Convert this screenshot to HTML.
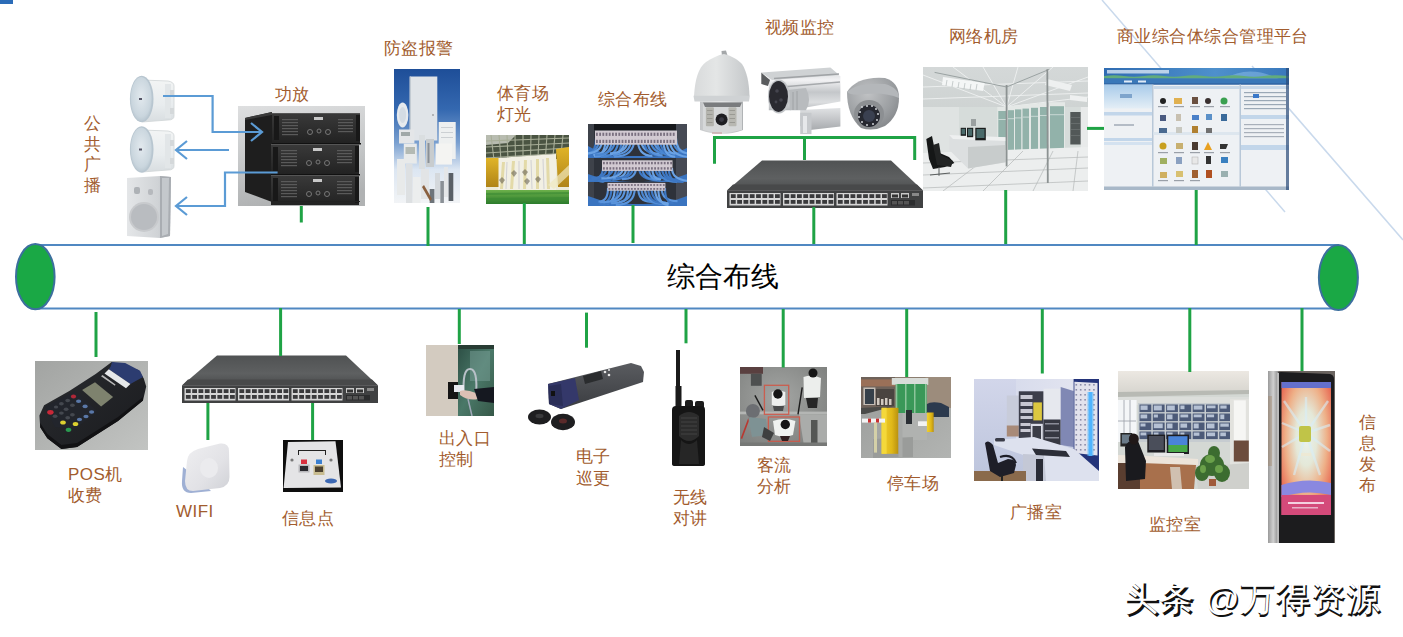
<!DOCTYPE html>
<html><head><meta charset="utf-8">
<style>
html,body{margin:0;padding:0;background:#fff;width:1403px;height:637px;overflow:hidden;position:relative}
body{font-family:"Liberation Sans",sans-serif}
.l{position:absolute;color:#a25c2e;font-size:17px;line-height:21px;letter-spacing:0.45px;white-space:nowrap}
.ph{position:absolute;overflow:hidden}
svg{position:absolute;left:0;top:0}
</style></head><body>
<!-- background lines & cylinder -->
<svg width="1403" height="637" viewBox="0 0 1403 637">
  <rect x="0" y="0" width="13" height="4" fill="#2b6cb8"/>
  <line x1="1102" y1="0" x2="1285" y2="212" stroke="#c9d9ec" stroke-width="1.5"/>
  <line x1="1252" y1="66" x2="1403" y2="240" stroke="#c9d9ec" stroke-width="1.5"/>
</svg>

<!-- photos placeholder -->

<!-- speaker 1 -->
<svg style="left:124px;top:72px" width="56" height="56" viewBox="0 0 56 56">
  <defs>
    <linearGradient id="spk" x1="0" y1="0" x2="0" y2="1"><stop offset="0" stop-color="#f2f4f4"/><stop offset="0.6" stop-color="#e8ecee"/><stop offset="1" stop-color="#d8dde0"/></linearGradient>
    <radialGradient id="disc" cx="0.5" cy="0.45" r="0.6"><stop offset="0" stop-color="#e2e9ee"/><stop offset="0.75" stop-color="#cad6de"/><stop offset="1" stop-color="#b4c2cc"/></radialGradient>
  </defs>
  <path d="M18 8 L44 9 Q50 10 50 14 L50 44 Q50 48 44 48 L18 50 Z" fill="url(#spk)" stroke="#cfd4d6" stroke-width="0.8"/>
  <rect x="41" y="12" width="6" height="34" fill="#e2e6e8"/>
  <rect x="46" y="18" width="4" height="6" fill="#d4d8da"/>
  <rect x="46" y="36" width="4" height="6" fill="#d4d8da"/>
  <ellipse cx="17.7" cy="27" rx="11.8" ry="23.2" fill="#b8c6d0"/>
  <ellipse cx="17.2" cy="27" rx="10.6" ry="22" fill="url(#disc)"/>
  <rect x="15" y="26" width="3" height="2" fill="#556"/>
</svg>
<!-- speaker 2 -->
<svg style="left:124px;top:123px" width="56" height="54" viewBox="0 0 56 54">
  <path d="M18 7 L44 8 Q50 9 50 13 L50 43 Q50 47 44 47 L18 49 Z" fill="url(#spk)" stroke="#cfd4d6" stroke-width="0.8"/>
  <rect x="41" y="11" width="6" height="34" fill="#e2e6e8"/>
  <rect x="46" y="17" width="4" height="6" fill="#d4d8da"/>
  <rect x="46" y="35" width="4" height="6" fill="#d4d8da"/>
  <ellipse cx="17.7" cy="26.5" rx="11.8" ry="23.2" fill="#b8c6d0"/>
  <ellipse cx="17.2" cy="26.5" rx="10.6" ry="22" fill="url(#disc)"/>
  <rect x="15" y="25.5" width="3" height="2" fill="#556"/>
</svg>
<!-- wall speaker -->
<svg style="left:124px;top:174px" width="50" height="66" viewBox="0 0 50 66">
  <defs><linearGradient id="ws" x1="0" x2="1"><stop offset="0" stop-color="#e4e6e8"/><stop offset="0.7" stop-color="#d0d3d6"/><stop offset="1" stop-color="#b8bcc0"/></linearGradient></defs>
  <path d="M3 4 L36 2 L47 3 L46 62 L36 64 L3 62 Z" fill="url(#ws)"/>
  <path d="M36 2 L47 3 L46 62 L36 64 Z" fill="#a9adb2"/>
  <path d="M38 4 L45 4 L44 60 L38 62 Z" fill="#c4c8cc"/>
  <ellipse cx="20" cy="43" rx="15" ry="15" fill="#c8cacd"/>
  <ellipse cx="20" cy="43" rx="13" ry="13" fill="#b9bcc0"/>
  <rect x="10" y="13" width="6" height="7" rx="2" fill="#aeb2b6"/>
  <rect x="24" y="15" width="5" height="6" rx="2" fill="#b6b9bd"/>
</svg>
<!-- amplifier -->
<svg style="left:238px;top:106px" width="127" height="100" viewBox="0 0 127 100">
  <defs><linearGradient id="ampbg" x1="0" y1="0" x2="0.2" y2="1"><stop offset="0" stop-color="#dedfe0"/><stop offset="0.55" stop-color="#c6c8c9"/><stop offset="1" stop-color="#b0b2b3"/></linearGradient>
  <linearGradient id="ampf" x1="0" y1="0" x2="0" y2="1"><stop offset="0" stop-color="#3a3a3a"/><stop offset="1" stop-color="#222"/></linearGradient>
  <g id="unit">
    <rect x="0" y="0" width="88" height="30" fill="url(#ampf)"/>
    <rect x="0" y="0" width="88" height="1" fill="#555"/>
    <rect x="2" y="3" width="5" height="24" fill="#181818"/>
    <g fill="#5a5a5a"><rect x="10" y="6" width="16" height="1.2"/><rect x="10" y="9" width="16" height="1.2"/><rect x="10" y="12" width="16" height="1.2"/><rect x="10" y="15" width="16" height="1.2"/><rect x="10" y="18" width="16" height="1.2"/><rect x="10" y="21" width="16" height="1.2"/></g>
    <g fill="#5a5a5a"><rect x="66" y="6" width="15" height="1.2"/><rect x="66" y="9" width="15" height="1.2"/><rect x="66" y="12" width="15" height="1.2"/><rect x="66" y="15" width="15" height="1.2"/><rect x="66" y="18" width="15" height="1.2"/></g>
    <rect x="42" y="4" width="9" height="3" fill="#c8c8c8"/>
    <g fill="none" stroke="#777" stroke-width="1"><circle cx="38" cy="19" r="2.5"/><circle cx="47" cy="18" r="2"/><circle cx="56" cy="19" r="2.5"/></g>
    <rect x="84" y="2" width="4" height="26" fill="#181818"/>
  </g>
  </defs>
  <rect width="127" height="100" fill="url(#ampbg)"/>
  <path d="M7 12 L34 6 L34 96 L7 86 Z" fill="#1e1e1e"/>
  <path d="M7 12 L34 6 L34 9 L7 14 Z" fill="#3a3a3a"/>
  <use href="#unit" x="34" y="7" transform="translate(0,0)"/>
  <rect x="34" y="37" width="89" height="1.5" fill="#111"/>
  <use href="#unit" x="33" y="38"/>
  <rect x="33" y="68" width="89" height="1.5" fill="#111"/>
  <use href="#unit" x="33" y="69"/>
  <rect x="33" y="95" width="89" height="1" fill="#222"/>
</svg>
<!-- alarm -->
<svg style="left:394px;top:69px" width="66" height="134" viewBox="0 0 66 134">
  <defs><linearGradient id="alb" x1="0" y1="0" x2="0" y2="1"><stop offset="0" stop-color="#1e4e98"/><stop offset="0.3" stop-color="#3468b0"/><stop offset="0.55" stop-color="#7aa0d0"/><stop offset="0.75" stop-color="#dce6f2"/><stop offset="1" stop-color="#f2f4f6"/></linearGradient></defs>
  <rect width="66" height="134" fill="url(#alb)"/>
  <rect x="15.7" y="7.5" width="27.6" height="64" fill="#e0e4e8"/>
  <rect x="15.7" y="7.5" width="1.2" height="64" fill="#c0c8d0"/>
  <circle cx="39" cy="46" r="0.8" fill="#777"/>
  <ellipse cx="8.6" cy="46" rx="5.8" ry="12.5" fill="#e6eaee"/>
  <ellipse cx="8.6" cy="46" rx="3.5" ry="8" fill="#d4dce4"/>
  <rect x="44.7" y="53" width="17" height="37" fill="#eef0f0"/>
  <g fill="#c4c8cc"><rect x="47" y="58" width="12" height="0.8"/><rect x="47" y="63" width="12" height="0.8"/><rect x="47" y="68" width="12" height="0.8"/></g>
  <rect x="41.6" y="74.6" width="16.4" height="21" fill="#f4f4f2"/>
  <rect x="5" y="60.5" width="15.4" height="14" fill="#e4e6e8"/>
  <rect x="7" y="63" width="9" height="4" fill="#a0a8a8"/>
  <rect x="9.8" y="74.6" width="13" height="20" fill="#e8eaea"/>
  <rect x="11.5" y="78" width="9.5" height="7" fill="#b4bab4"/>
  <rect x="25" y="66" width="6" height="34" fill="#dadee0"/>
  <rect x="32" y="70" width="8" height="28" fill="#c8ccce"/>
  <rect x="33.5" y="74" width="2" height="20" fill="#8a9096"/>
  <rect x="3" y="90" width="8" height="36" fill="#e8eaea"/>
  <rect x="12" y="95" width="6.5" height="40" fill="#dde0e2"/>
  <rect x="19" y="108" width="7.5" height="27" fill="#eceeee"/>
  <rect x="27" y="100" width="8" height="30" fill="#e2e4e6"/>
  <rect x="35.7" y="120" width="4.7" height="14" fill="#6e747a"/>
  <rect x="41" y="104" width="5" height="26" fill="#d4d8dc"/>
  <rect x="46.3" y="112" width="3.6" height="22" fill="#8a9096"/>
  <rect x="50" y="98" width="4" height="30" fill="#e4e6e8"/>
  <rect x="54.6" y="104" width="4.7" height="28" fill="#5a6066"/>
  <path d="M30 116 L38 130 L36 132 L28 118 Z" fill="#8a6040"/>
</svg>
<!-- stadium -->
<svg style="left:486px;top:135px" width="83" height="69" viewBox="0 0 83 69">
  <defs>
    <linearGradient id="fld" x1="0" y1="0" x2="0" y2="1"><stop offset="0" stop-color="#6cb04a"/><stop offset="1" stop-color="#2c7c2c"/></linearGradient>
    <linearGradient id="ylw" x1="0" y1="0" x2="0" y2="1"><stop offset="0" stop-color="#e0b428"/><stop offset="1" stop-color="#b08418"/></linearGradient>
  </defs>
  <rect width="83" height="69" fill="#ecead8"/>
  <rect width="83" height="24" fill="#4a5442"/>
  <path d="M0 0 L30 0 L22 8 L0 10 Z" fill="#b8bcb0"/>
  <g stroke="#a8ae98" stroke-width="1.1" fill="none">
    <path d="M0 6 L83 3"/><path d="M0 12 L83 8"/><path d="M0 18 L83 13"/><path d="M0 23 L83 18"/>
    <path d="M5 0 L8 25"/><path d="M13 0 L15 25"/><path d="M21 0 L22 25"/><path d="M29 0 L29.5 25"/><path d="M37 0 L37 25"/><path d="M45 0 L44.5 24"/><path d="M53 0 L52 23"/><path d="M61 0 L59.5 22"/><path d="M69 0 L67 21"/><path d="M77 0 L75 20"/>
  </g>
  <path d="M12 23 L70 19 L70 56 L12 56 Z" fill="#f2f0e4"/>
  <g fill="#e2d8a2" opacity="0.9"><path d="M16 27 L19 27 L17 54 L14 54 Z"/><path d="M26 26 L29 26 L27 54 L24 54 Z"/><path d="M38 25 L41 25 L40 54 L37 54 Z"/><path d="M50 24 L53 24 L53 54 L50 54 Z"/><path d="M60 23 L63 23 L64 54 L61 54 Z"/></g>
  <g stroke="#b8bac8" stroke-width="0.6"><line x1="21" y1="27" x2="20" y2="54"/><line x1="33" y1="26" x2="33" y2="54"/><line x1="45" y1="25" x2="46" y2="54"/><line x1="57" y1="24" x2="58" y2="54"/></g>
  <g fill="#6a6454" opacity="0.6"><path d="M25 38 L28 35 L31 38 L28 42 Z"/><path d="M38 46 L41 43 L44 46 L41 50 Z"/><path d="M13 45 L16 42 L19 45 L16 49 Z"/><path d="M49 44 L52 41 L55 44 L52 48 Z"/><path d="M36 37 L39 34 L42 37 L39 41 Z"/></g>
  <path d="M0 23 L12.5 23 L12.5 52 L0 52 Z" fill="url(#ylw)"/>
  <path d="M70 14 L83 12 L83 52 L72 52 Z" fill="url(#ylw)"/>
  <path d="M62 50 L83 30 L83 40 L68 54 Z" fill="#f0e8c0" opacity="0.7"/>
  <rect x="0" y="55" width="83" height="14" fill="url(#fld)"/>
  <g fill="#3a8a34" opacity="0.6"><path d="M0 58 L83 57 L83 59 L0 60 Z"/><path d="M0 63 L83 62 L83 64.5 L0 65.5 Z"/></g>
</svg>

<!-- PTZ camera -->
<svg style="left:692px;top:50px" width="60" height="88" viewBox="0 0 60 88">
  <defs>
    <linearGradient id="ptzd" x1="0" x2="1"><stop offset="0" stop-color="#d8dadb"/><stop offset="0.4" stop-color="#e4e6e6"/><stop offset="1" stop-color="#c4c7c9"/></linearGradient>
    <linearGradient id="ptzh" x1="0" x2="1"><stop offset="0" stop-color="#c4c6c8"/><stop offset="0.5" stop-color="#e0e2e2"/><stop offset="1" stop-color="#b0b3b5"/></linearGradient>
  </defs>
  <path d="M29.5 1 L34 0.5 L35.5 5.5 L30 6.5 Z" fill="#a4a7a9"/>
  <path d="M2 46 C3 30 6 18 14 12 C20 8 26 5 32 4 C40 6 46 10 50 14 C55 22 57 32 57.5 46 Z" fill="url(#ptzd)"/>
  <path d="M1.5 45.7 L57.8 45.7 L57 51.6 L2.5 51.6 Z" fill="#cfd2d4"/>
  <path d="M8 51.6 L51 51.6 L51 80 Q30 88 8 80 Z" fill="url(#ptzh)"/>
  <path d="M11 52.5 L50 52.5 L50 80 Q30 85 11 80 Z" fill="#d6d8d9"/>
  <path d="M11 52.5 L50 52.5 L48 57 L13 57 Z" fill="#7a7c7e"/>
  <rect x="13.9" y="57.3" width="8" height="19" rx="1" fill="#b4b4ae"/>
  <rect x="36.5" y="57.3" width="8" height="19" rx="1" fill="#b8b8b2"/>
  <g fill="#9a9a94"><rect x="15" y="60" width="5.5" height="1"/><rect x="15" y="64" width="5.5" height="1"/><rect x="15" y="68" width="5.5" height="1"/><rect x="15" y="72" width="5.5" height="1"/><rect x="37.5" y="60" width="5.5" height="1"/><rect x="37.5" y="64" width="5.5" height="1"/><rect x="37.5" y="68" width="5.5" height="1"/><rect x="37.5" y="72" width="5.5" height="1"/></g>
  <circle cx="29.6" cy="69.6" r="6" fill="#1e1e22"/>
  <circle cx="29.6" cy="69.6" r="2.4" fill="#3a3a44"/>
  <rect x="20" y="82" width="10" height="2" fill="#c8a8a8" opacity="0.7"/>
</svg>
<!-- bullet camera -->
<svg style="left:760px;top:66px" width="82" height="69" viewBox="0 0 82 69">
  <defs>
    <linearGradient id="blt" x1="0" y1="0" x2="0" y2="1"><stop offset="0" stop-color="#d4d6d8"/><stop offset="0.25" stop-color="#f2f2f4"/><stop offset="0.55" stop-color="#c4c7ca"/><stop offset="0.8" stop-color="#dcdee0"/><stop offset="1" stop-color="#b4b7ba"/></linearGradient>
    <linearGradient id="brk" x1="0" y1="0" x2="0" y2="1"><stop offset="0" stop-color="#e0e2e4"/><stop offset="1" stop-color="#a8abae"/></linearGradient>
  </defs>
  <path d="M40.2 44 L80.4 42 L80.4 60.6 L50 64 L40.2 60 Z" fill="url(#brk)"/>
  <path d="M40.2 46.8 L51.5 46.8 L51.5 68.1 L40.2 68.1 Z" fill="#c6c9cc"/>
  <rect x="43" y="50" width="4" height="17" fill="#e6e8ea"/>
  <path d="M8.8 12 L70.4 4 L80.4 10.3 L80.4 35.5 L30 44.3 L8.8 44.3 Z" fill="url(#blt)"/>
  <path d="M1.3 6.6 L70.4 1.5 L79.2 9.1 L12 14 Z" fill="#cfd2d4"/>
  <path d="M1.3 6.6 L10 14 L8 20 L1.3 18 Z" fill="#5a5c5e"/>
  <path d="M14 12.5 L79 8" stroke="#9fa2a5" stroke-width="1.6"/>
  <path d="M22 21 L80 16" stroke="#a6a9ac" stroke-width="1.6"/>
  <path d="M28 24 L46 22 Q52 34 46 44.3 L30 44.3 Z" fill="#b8bbbe"/>
  <g stroke="#9a9da0" stroke-width="0.8"><line x1="33" y1="26" x2="33" y2="44"/><line x1="37" y1="25" x2="37" y2="44"/></g>
  <ellipse cx="18.9" cy="30.4" rx="11" ry="17" fill="#c2c5c8"/>
  <ellipse cx="18.5" cy="30.4" rx="9.5" ry="15.5" fill="#2a2a30"/>
  <circle cx="17" cy="25" r="1.8" fill="#45454e"/><circle cx="21" cy="34" r="1.8" fill="#45454e"/><circle cx="16" cy="36" r="1.4" fill="#45454e"/>
</svg>
<!-- dome camera -->
<svg style="left:845px;top:76px" width="56" height="56" viewBox="0 0 56 56">
  <defs>
    <radialGradient id="dm" cx="0.4" cy="0.3" r="0.8"><stop offset="0" stop-color="#c0c2c4"/><stop offset="0.6" stop-color="#9c9fa2"/><stop offset="1" stop-color="#7e8184"/></radialGradient>
  </defs>
  <path d="M2 16 Q12 0 40 2 Q54 6 54 22 Q54 40 40 50 Q28 56 16 52 Q2 40 2 16 Z" fill="url(#dm)"/>
  <path d="M2 16 Q12 6 40 8 Q54 12 54 22 Q40 16 20 18 Q6 20 2 16 Z" fill="#b4b7ba"/>
  <ellipse cx="24" cy="38" rx="15" ry="14" fill="#8c8f92"/>
  <circle cx="24" cy="40" r="11" fill="#262830"/>
  <circle cx="24" cy="40" r="6" fill="#3a4050"/>
  <g fill="#cfd2d6"><circle cx="15" cy="36" r="1"/><circle cx="17" cy="31" r="1"/><circle cx="22" cy="30" r="1"/><circle cx="27" cy="30" r="1"/><circle cx="31" cy="33" r="1"/><circle cx="33" cy="38" r="1"/><circle cx="32" cy="44" r="1"/><circle cx="28" cy="48" r="1"/><circle cx="22" cy="49" r="1"/><circle cx="17" cy="46" r="1"/><circle cx="14" cy="41" r="1"/></g>
</svg>

<svg style="left:727px;top:160px" width="197" height="49" viewBox="0 0 197 49">
  <defs>
    <linearGradient id="swt" x1="0" y1="0" x2="0" y2="1"><stop offset="0" stop-color="#505253"/><stop offset="0.6" stop-color="#5e6061"/><stop offset="1" stop-color="#4a4c4d"/></linearGradient>
    <g id="pg">
      <rect x="0" y="0" width="51" height="12.5" fill="#d6d6d6"/>
      <g fill="#3a3a3c" id="pr">
        <rect x="1.4" y="1.2" width="4.8" height="3.8"/><rect x="7.7" y="1.2" width="4.8" height="3.8"/><rect x="14" y="1.2" width="4.8" height="3.8"/><rect x="20.3" y="1.2" width="4.8" height="3.8"/><rect x="26.6" y="1.2" width="4.8" height="3.8"/><rect x="32.9" y="1.2" width="4.8" height="3.8"/><rect x="39.2" y="1.2" width="4.8" height="3.8"/><rect x="45.5" y="1.2" width="4.8" height="3.8"/>
      </g>
      <use href="#pr" y="5.8"/>
    </g>
    <g id="sw">
      <path d="M35 0.5 L164 0.5 L196 30.5 L0 30.5 Z" fill="url(#swt)"/>
      <path d="M6 24.5 L190 24.5 L196 30.5 L0 30.5 Z" fill="#48494a"/>
      <path d="M0 30.5 L196 30.5 L196 48 L0 48 Z" fill="#404142"/>
      <use href="#pg" x="2.5" y="33"/>
      <use href="#pg" x="56" y="33"/>
      <use href="#pg" x="109.5" y="33"/>
      <rect x="164" y="33" width="8" height="5" fill="#c8c8c8"/><rect x="174" y="33" width="8" height="5" fill="#c8c8c8"/>
      <rect x="165" y="34.5" width="6" height="3" fill="#333"/><rect x="175" y="34.5" width="6" height="3" fill="#333"/>
      <rect x="164" y="40" width="24" height="5.5" fill="#2c2d2e"/>
      <g fill="#555"><rect x="165" y="41" width="5" height="3.5"/><rect x="171" y="41" width="5" height="3.5"/><rect x="177" y="41" width="5" height="3.5"/></g>
      <rect x="185" y="33" width="7" height="3" fill="#888"/>
    </g>
  </defs>
  <use href="#sw"/>
</svg>
<svg style="left:182px;top:355px" width="197" height="49" viewBox="0 0 197 49"><use href="#sw"/></svg>
<!-- network room -->
<svg style="left:923px;top:67px" width="165" height="124" viewBox="0 0 165 124">
  <defs>
    <linearGradient id="nrc" x1="0" y1="0" x2="0" y2="1"><stop offset="0" stop-color="#d4d8d8"/><stop offset="1" stop-color="#c4cac8"/></linearGradient>
  </defs>
  <rect width="165" height="124" fill="url(#nrc)"/>
  <g stroke="#eef0f0" stroke-width="0.9" fill="none">
    <line x1="0" y1="8" x2="83.6" y2="40"/><line x1="30" y1="0" x2="83.6" y2="40"/><line x1="60" y1="0" x2="83.6" y2="40"/><line x1="95" y1="0" x2="83.6" y2="40"/><line x1="130" y1="0" x2="83.6" y2="40"/><line x1="165" y1="10" x2="83.6" y2="40"/><line x1="165" y1="30" x2="83.6" y2="40"/>
    <line x1="0" y1="20" x2="165" y2="14"/><line x1="0" y1="32" x2="165" y2="26"/>
  </g>
  <path d="M20 10 L61.7 16 L60 24 L19 18 Z" fill="#f4f6f6"/>
  <g stroke="#a8b0b0" stroke-width="0.6"><line x1="24" y1="13" x2="23" y2="19"/><line x1="30" y1="14" x2="29" y2="20"/><line x1="36" y1="15" x2="35" y2="21"/><line x1="42" y1="16" x2="41" y2="22"/><line x1="48" y1="17" x2="47" y2="23"/><line x1="54" y1="17" x2="53" y2="23"/></g>
  <path d="M124 12 L149 18 L147 24 L122 18 Z" fill="#eef0f0"/>
  <path d="M147 28 L164 30 L164 35 L147 33 Z" fill="#eef0f0"/>
  <rect x="0" y="40" width="165" height="46" fill="#d6dcda"/>
  <rect x="0" y="40" width="36" height="46" fill="#dfe3e2"/>
  <rect x="48" y="52" width="5" height="7" fill="#9aa0a0"/>
  <rect x="74.3" y="40.0" width="9.700000000000003" height="46.0" fill="#e4e8e6"/><rect x="75.3" y="44.0" width="7.700000000000003" height="40.0" fill="#92b2aa"/><rect x="75.3" y="52.0" width="7.700000000000003" height="1" fill="#c8d8d4"/><rect x="84" y="39.2" width="8" height="46.8" fill="#e4e8e6"/><rect x="85" y="43.2" width="6" height="40.8" fill="#92b2aa"/><rect x="85" y="51.2" width="6" height="1" fill="#c8d8d4"/><rect x="91" y="38.4" width="8.5" height="47.6" fill="#e4e8e6"/><rect x="92" y="42.4" width="6.5" height="41.6" fill="#92b2aa"/><rect x="92" y="50.4" width="6.5" height="1" fill="#c8d8d4"/><rect x="98.5" y="37.6" width="8.5" height="48.4" fill="#e4e8e6"/><rect x="99.5" y="41.6" width="6.5" height="42.4" fill="#92b2aa"/><rect x="99.5" y="49.6" width="6.5" height="1" fill="#c8d8d4"/><rect x="107" y="36.8" width="9" height="49.2" fill="#e4e8e6"/><rect x="108" y="40.8" width="7" height="43.2" fill="#92b2aa"/><rect x="108" y="48.8" width="7" height="1" fill="#c8d8d4"/><rect x="116" y="36.0" width="9" height="50.0" fill="#e4e8e6"/><rect x="117" y="40.0" width="7" height="44.0" fill="#92b2aa"/><rect x="117" y="48.0" width="7" height="1" fill="#c8d8d4"/><rect x="126" y="35.2" width="16" height="50.8" fill="#e4e8e6"/><rect x="127" y="39.2" width="14" height="44.8" fill="#92b2aa"/><rect x="127" y="47.2" width="14" height="1" fill="#c8d8d4"/>
  <rect x="147.3" y="45" width="10.5" height="32.5" fill="#525858"/>
  <g fill="#6c7272"><rect x="148" y="50" width="9" height="0.8"/><rect x="148" y="56" width="9" height="0.8"/><rect x="148" y="62" width="9" height="0.8"/><rect x="148" y="68" width="9" height="0.8"/></g>
  <rect x="157.8" y="40" width="7.2" height="46" fill="#e8eaea"/>
  <path d="M0 86 L165 80 L165 124 L0 124 Z" fill="#eceeee"/>
  <g stroke="#b4b8b8" stroke-width="0.7">
    <line x1="0" y1="96" x2="165" y2="90"/><line x1="0" y1="108" x2="165" y2="101"/><line x1="0" y1="121" x2="165" y2="114"/>
    <line x1="20" y1="124" x2="70" y2="86"/><line x1="60" y1="124" x2="100" y2="84"/><line x1="110" y1="124" x2="130" y2="84"/><line x1="150" y1="124" x2="155" y2="84"/>
  </g>
  <path d="M26.2 68 L82.6 70.2 L82.6 95.2 L45 101.5 L26.2 82.7 Z" fill="#dcdfe0"/>
  <path d="M26.2 68 L82.6 70.2 L82.6 74 L30 72 Z" fill="#eef0f0"/>
  <path d="M45 80 L82.6 78 L82.6 95.2 L45 101.5 Z" fill="#c8cccc"/>
  <g fill="#1a1c1c"><rect x="37.7" y="60.8" width="5.3" height="8"/><rect x="44" y="60.8" width="6.2" height="9.4"/><rect x="52.3" y="60.8" width="10.5" height="12.5"/></g>
  <g fill="#4a6a6a"><rect x="38.5" y="61.8" width="3.7" height="5.5"/><rect x="45" y="61.8" width="4.2" height="7"/><rect x="53.5" y="62" width="8" height="9"/></g>
  <path d="M3.3 72 L9 69 L12 84 L26 90 L31.4 96 L22 100 L10 102 L6 92 Z" fill="#151717"/>
  <path d="M10 78 L16 76 L18 88 L30 94 L28 100 L14 98 Z" fill="#222424"/>
  <g stroke="#5a5e5e" stroke-width="1"><line x1="16" y1="100" x2="16" y2="108.8"/><line x1="7" y1="108" x2="27" y2="106"/></g>
  <path d="M11.6 5.4 L83.6 20 L126.4 2.3" fill="none" stroke="#9aa2a2" stroke-width="1"/>
  <g stroke="#8c9292" stroke-width="1.8"><line x1="83.6" y1="18" x2="83.6" y2="99.4"/><line x1="124.3" y1="2.3" x2="124.8" y2="116"/></g>
</svg>
<!-- platform screenshot -->
<svg style="left:1104px;top:68px" width="185" height="122" viewBox="0 0 185 122">
  <defs>
    <linearGradient id="phd" x1="0" y1="0" x2="1" y2="0"><stop offset="0" stop-color="#2f6cb2"/><stop offset="0.6" stop-color="#4e90cc"/><stop offset="1" stop-color="#3a78bc"/></linearGradient>
    <linearGradient id="plb" x1="0" y1="0" x2="0" y2="1"><stop offset="0" stop-color="#a8cbea"/><stop offset="1" stop-color="#e4eef6"/></linearGradient>
  </defs>
  <rect width="185" height="122" fill="#eef1f4"/>
  <rect width="185" height="11" fill="url(#phd)"/>
  <path d="M120 11 Q145 -4 175 11 Z" fill="#8ec0e8" opacity="0.5"/>
  <path d="M0 8 Q10 6.5 20 8 T40 8 T60 8 T80 8 T100 8 T120 8 T140 8 T160 8 T185 8 L185 10.5 L0 10.5 Z" fill="#62ac7c"/>
  <rect x="3" y="2" width="62" height="3.5" fill="#e4eef8" opacity="0.75"/>
  <rect x="0" y="10.5" width="185" height="6" fill="#3a78b8"/>
  <rect x="0" y="15.5" width="185" height="1" fill="#2a5a98"/>
  <rect x="20" y="12.5" width="8" height="2" fill="#dfeaf6"/><rect x="34" y="12.5" width="8" height="2" fill="#dfeaf6"/>
  <rect x="0" y="16.5" width="48" height="24" fill="url(#plb)"/>
  <rect x="16" y="26" width="12" height="4" fill="#7ea4cc"/>
  <rect x="0" y="44" width="48" height="3.5" fill="#c2d6ea"/>
  <rect x="0" y="70" width="48" height="3" fill="#c2d6ea"/><rect x="0" y="74" width="48" height="3" fill="#d4e2f0"/>
  <rect x="10" y="56" width="20" height="2" fill="#b4bcc6"/>
  <rect x="48" y="16.5" width="1.5" height="102" fill="#b8c8d8"/>
  <rect x="49.5" y="18" width="86" height="3" fill="#c8d8e8"/>
  <rect x="49.5" y="64" width="86" height="3" fill="#dde6ee"/>
  <rect x="135.5" y="16.5" width="1.5" height="102" fill="#b8c8d8"/>
  <rect x="137" y="18" width="48" height="3" fill="#c8d8e8"/>
  <g fill="#9aa8b6"><rect x="140" y="24" width="42" height="1.2"/><rect x="140" y="28" width="42" height="1.2"/><rect x="140" y="32" width="42" height="1.2"/><rect x="140" y="36" width="42" height="1.2"/><rect x="140" y="40" width="42" height="1.2"/></g>
  <rect x="149" y="26" width="6" height="4" fill="#3a78c8"/>
  <rect x="137" y="47" width="48" height="4" fill="#c2d6ea"/>
  <g fill="#a8b0ba"><rect x="140" y="56" width="40" height="1.2"/><rect x="140" y="60" width="40" height="1.2"/><rect x="140" y="64" width="40" height="1.2"/><rect x="140" y="68" width="40" height="1.2"/></g>
  <rect x="137" y="77" width="48" height="5" fill="#c2d6ea"/>
  <g id="icrow">
    <circle cx="59" cy="33" r="3" fill="#222"/><rect x="70" y="30" width="8" height="6" fill="#e0b050"/><rect x="88" y="29" width="6" height="7" fill="#6a5040"/><circle cx="104" cy="33" r="3" fill="#3a3030"/><circle cx="120" cy="33" r="3.5" fill="#3aa050"/>
  </g>
  <g><rect x="56" y="47" width="6" height="6" fill="#4a5a80"/><rect x="72" y="46" width="5" height="7" fill="#c8c0b0"/><rect x="88" y="47" width="7" height="5" fill="#4a80c8"/><rect x="102" y="46" width="6" height="6" fill="#5a90c8"/><rect x="117" y="46" width="6" height="7" fill="#3a6a9a"/></g>
  <g><rect x="55" y="60" width="8" height="5" fill="#4a6a90"/><rect x="72" y="59" width="6" height="6" fill="#c8c8c0"/><rect x="88" y="58" width="6" height="7" fill="#b08030"/><rect x="102" y="60" width="6" height="5" fill="#707070"/></g>
  <g><circle cx="59" cy="78" r="3.5" fill="#c8a020"/><rect x="72" y="75" width="7" height="6" fill="#c8b070"/><rect x="88" y="74" width="6" height="8" fill="#4a3a30"/><path d="M104 74 L108 82 L100 82 Z" fill="#e8a020"/><path d="M116 76 L124 76 L122 81 L116 81 Z" fill="#333"/></g>
  <g><rect x="56" y="90" width="7" height="6" fill="#a0b060"/><rect x="72" y="89" width="6" height="7" fill="#8aa0c0"/><rect x="88" y="89" width="6" height="7" fill="#e8e8e8" stroke="#aaa" stroke-width="0.5"/><rect x="102" y="88" width="5" height="8" fill="#333"/><rect x="117" y="89" width="7" height="6" fill="#3a80c0"/></g>
  <g><rect x="56" y="104" width="7" height="6" fill="#d0b060"/><rect x="72" y="103" width="7" height="6" fill="#d8c070"/><rect x="88" y="102" width="6" height="8" fill="#a06030"/><rect x="102" y="102" width="6" height="8" fill="#b05020"/><rect x="117" y="103" width="7" height="6" fill="#9ab0b0"/></g>
  <g fill="#9aa0a8"><rect x="54" y="38" width="10" height="1.2"/><rect x="70" y="38" width="10" height="1.2"/><rect x="86" y="38" width="10" height="1.2"/><rect x="100" y="38" width="10" height="1.2"/><rect x="116" y="38" width="10" height="1.2"/><rect x="54" y="84" width="10" height="1.2"/><rect x="70" y="84" width="10" height="1.2"/><rect x="86" y="84" width="10" height="1.2"/><rect x="100" y="84" width="10" height="1.2"/><rect x="116" y="84" width="10" height="1.2"/><rect x="54" y="112" width="10" height="1.2"/><rect x="70" y="112" width="10" height="1.2"/><rect x="86" y="112" width="10" height="1.2"/></g>
  <rect x="0" y="118.5" width="185" height="3.5" fill="#a8b8c8"/><rect x="182" y="0" width="3" height="122" fill="#2a4a78" opacity="0.7"/>
</svg>

<!-- POS -->
<svg style="left:35px;top:361px" width="113" height="89" viewBox="0 0 113 89">
  <defs><linearGradient id="posbg" x1="0" y1="0" x2="1" y2="1"><stop offset="0" stop-color="#a2a4a2"/><stop offset="0.5" stop-color="#b2b4b2"/><stop offset="1" stop-color="#c2c4c2"/></linearGradient>
  <linearGradient id="posb" x1="0" y1="0" x2="1" y2="1"><stop offset="0" stop-color="#2a2c30"/><stop offset="1" stop-color="#1a1b1e"/></linearGradient></defs>
  <rect width="113" height="89" fill="url(#posbg)"/>
  <path d="M4.4 54.5 L9.1 44.3 L34.3 30.1 L61 12.8 L76.7 1 L103.4 9 L108.8 17.6 L111.2 25.4 L108 39.5 L83 60 L42.1 85.9 L26.4 87.9 L12.3 77.2 L5.2 66.2 Z" fill="url(#posb)"/>
  <path d="M5.2 62 L12.3 73 L26.4 84 L42.1 82 L83 56 L108 36 L108 39.5 L83 60 L42.1 85.9 L26.4 87.9 L12.3 77.2 L5.2 66.2 Z" fill="#121214"/>
  <path d="M75.6 5.7 L77 1 L90.2 2 L105 9.7 L108 16 L95.4 23 L73.8 8.3 Z" fill="#2c3c70"/>
  <path d="M69.5 12.6 L73.8 8.3 L95.4 23 L91 27.3 Z" fill="#e6e8ea"/>
  <path d="M66 15.2 L67.5 14 L80.5 23.5 L79.9 24.7 Z" fill="#b8b8b8"/>
  <path d="M47.1 29 L60 21.3 L78.1 35.9 L66.1 45.4 Z" fill="#7e826e"/>
  <path d="M10 46 L40 30 L62 50 L40 68 L20 66 Z" fill="#22252c"/><g fill="#5a78a8"><ellipse cx="43.6" cy="40.2" rx="2.6" ry="1.8"/><ellipse cx="50.1" cy="45.4" rx="2.6" ry="1.8"/><ellipse cx="56.6" cy="51" rx="2.6" ry="1.8"/><ellipse cx="51" cy="55.5" rx="2.6" ry="1.8"/><ellipse cx="44.5" cy="58.5" rx="2.6" ry="1.8"/></g>
  <g fill="#44484f"><ellipse cx="26.4" cy="42.7" rx="2.4" ry="1.7"/><ellipse cx="32.7" cy="39.5" rx="2.4" ry="1.7"/><ellipse cx="37.4" cy="44.3" rx="2.4" ry="1.7"/><ellipse cx="31.1" cy="48.2" rx="2.4" ry="1.7"/><ellipse cx="26.4" cy="52.1" rx="2.4" ry="1.7"/><ellipse cx="37.4" cy="53.7" rx="2.4" ry="1.7"/><ellipse cx="20.1" cy="55.2" rx="2.4" ry="1.7"/><ellipse cx="32.7" cy="56.8" rx="2.4" ry="1.7"/><ellipse cx="21" cy="46" rx="2.2" ry="1.6"/></g>
  <ellipse cx="15.4" cy="51.3" rx="3.2" ry="2.4" fill="#c82838"/>
  <ellipse cx="38.5" cy="35.5" rx="2.6" ry="2" fill="#b02838"/>
  <ellipse cx="28" cy="61.5" rx="2.8" ry="2.1" fill="#dcd030"/><ellipse cx="40.5" cy="63" rx="2.8" ry="2.1" fill="#dcd030"/>
  <ellipse cx="33.5" cy="68.8" rx="2.8" ry="2.1" fill="#2a9a50"/>
</svg>
<!-- WiFi AP -->
<svg style="left:181px;top:441px" width="50" height="53" viewBox="0 0 50 53">
  <defs><linearGradient id="ap" x1="0" y1="0" x2="1" y2="1"><stop offset="0" stop-color="#efeff1"/><stop offset="0.6" stop-color="#e2e2e6"/><stop offset="1" stop-color="#d0d1d6"/></linearGradient></defs>
  <path d="M2 26 L1 40 Q0 52 10 52 L30 50 L20 40 Z" fill="#9fb0d4"/>
  <path d="M4 40 Q4 50 12 50 L39 47 Q48.5 45 48.5 36 L48 10 Q48 1.5 39 2.5 L17 8 Q7 11 6 20 Z" fill="url(#ap)"/>
  <ellipse cx="28" cy="27" rx="9" ry="10" fill="#ebebee"/>
</svg>
<!-- outlet -->
<svg style="left:283px;top:440px" width="60" height="52" viewBox="0 0 60 52">
  <rect width="60" height="52" fill="#0e0e0e"/>
  <path d="M5 2 L52.5 1.2 L58 47.5 L0.6 48 Z" fill="#e4e4e6"/>
  <path d="M15 10 L43 10 L43 15 L42 15 L42 11 L16 11 L16 15 L15 15 Z" fill="#222"/>
  <circle cx="9" cy="20" r="1.6" fill="#777"/><circle cx="48" cy="20" r="1.6" fill="#777"/>
  <rect x="18" y="19.5" width="6" height="4.5" fill="#d83040"/>
  <rect x="33" y="19.5" width="6" height="4.5" fill="#3a80d0"/>
  <rect x="15.5" y="24.5" width="11" height="8" fill="#b8b8bc"/><rect x="17" y="26" width="8" height="5" fill="#2a2a30"/>
  <rect x="30.5" y="25" width="11" height="10" fill="#c8bc90"/><rect x="32" y="26.5" width="8" height="5.5" fill="#4a4030"/>
  <ellipse cx="48" cy="41" rx="6" ry="2.5" fill="#3c68b4"/>
</svg>
<!-- access control -->
<svg style="left:426px;top:345px" width="68" height="71" viewBox="0 0 68 71">
  <defs><linearGradient id="glass" x1="0" y1="0" x2="1" y2="1"><stop offset="0" stop-color="#2c4e44"/><stop offset="0.5" stop-color="#4a7868"/><stop offset="1" stop-color="#365848"/></linearGradient></defs>
  <rect width="32" height="71" fill="#d3cbc0"/>
  <rect x="32" width="36" height="71" fill="url(#glass)"/>
  <rect x="32" y="0" width="36" height="4" fill="#283c34"/>
  <rect x="44" y="6" width="20" height="30" fill="#7aa098" opacity="0.5"/>
  <path d="M38 50 Q36 24 44 24 Q52 24 50 50" fill="none" stroke="#b8c0c8" stroke-width="2"/>
  <rect x="22" y="37" width="10" height="17" fill="#151515"/>
  <rect x="28" y="40" width="10" height="7" fill="#e8eaf0"/>
  <path d="M34 46 Q40 44 50 48 L52 54 Q42 56 34 50 Z" fill="#dcc0b4"/>
  <path d="M48 44 L68 42 L68 58 L52 56 Z" fill="#151820"/>
  <line x1="42" y1="54" x2="46" y2="71" stroke="#a0a8b8" stroke-width="1.5"/>
</svg>
<!-- patrol -->
<svg style="left:527px;top:362px" width="118" height="70" viewBox="0 0 118 70">
  <defs><linearGradient id="ptr" x1="0" y1="0" x2="0" y2="1"><stop offset="0" stop-color="#5a5c60"/><stop offset="1" stop-color="#3a3c40"/></linearGradient></defs>
  <path d="M21 22 L104 1 L114 4 L117 10 L116 20 L34 47 L22 42 Z" fill="url(#ptr)"/>
  <path d="M21 22 L48 16 L52 38 L34 47 L22 42 Z" fill="#34386a"/>
  <path d="M22 24 L34 22 L36 44 L22 42 Z" fill="#2a2e58"/>
  <rect x="24" y="29" width="4" height="5" fill="#111"/>
  <path d="M56 14 L74 9 L76 17 L58 22 Z" fill="#2a2c2e"/>
  <g fill="#e8e8e8"><circle cx="78" cy="10" r="1.3"/><circle cx="82" cy="13" r="1.3"/><circle cx="82" cy="8" r="1"/></g>
  <ellipse cx="12.5" cy="55" rx="11.5" ry="7.4" fill="#1e1e20"/>
  <ellipse cx="12.5" cy="54" rx="4" ry="2.2" fill="#3a3a3c"/>
  <ellipse cx="36" cy="60" rx="12" ry="8.2" fill="#1e1e20"/>
  <ellipse cx="36" cy="59" rx="4" ry="2.5" fill="#5a2a2a"/>
</svg>
<!-- walkie talkie -->
<svg style="left:671px;top:348px" width="36" height="119" viewBox="0 0 36 119">
  <path d="M5 2 L9 2 L9 40 L5 40 Z" fill="#1a1a1a"/>
  <rect x="4.5" y="38" width="6" height="22" fill="#1a1a1a"/>
  <rect x="14" y="52" width="8" height="10" rx="2" fill="#1c1c1c"/><rect x="24" y="53" width="9" height="9" rx="2" fill="#1c1c1c"/>
  <path d="M1 62 Q1 58 5 58 L31 58 Q34 58 34 62 L34 116 Q34 118 31 118 L4 118 Q1 118 1 116 Z" fill="#151515"/>
  <path d="M8 68 Q18 60 28 68 L28 88 Q18 98 8 88 Z" fill="#2c2c2c"/>
  <g stroke="#555" stroke-width="0.6"><line x1="10" y1="70" x2="26" y2="70"/><line x1="10" y1="74" x2="26" y2="74"/><line x1="10" y1="78" x2="26" y2="78"/><line x1="10" y1="82" x2="26" y2="82"/><line x1="10" y1="86" x2="26" y2="86"/></g>
  <path d="M10 92 Q18 100 26 92 L28 116 L8 116 Z" fill="#262626"/>
</svg>
<!-- customer flow -->
<svg style="left:740px;top:367px" width="87" height="79" viewBox="0 0 87 79">
  <defs><radialGradient id="cff" cx="0.45" cy="0.4" r="0.7"><stop offset="0" stop-color="#a4a6a4"/><stop offset="1" stop-color="#7e807e"/></radialGradient></defs>
  <rect width="87" height="79" fill="url(#cff)"/>
  <rect x="0" y="0" width="23" height="6.8" fill="#5a4040"/>
  <rect x="10.9" y="6.8" width="10.8" height="12" fill="#4e5050"/>
  <rect x="0" y="44.6" width="87" height="2.7" fill="#b4b6b4"/>
  <path d="M59 47.3 L87 47.3 L87 79 L64 79 Z" fill="#aaacaa"/>
  <rect x="71" y="53" width="6.5" height="23" fill="#545654"/>
  <rect x="0" y="75.5" width="87" height="3.5" fill="#767876"/>
  <g fill="none" stroke="#d05848" stroke-width="1.3" opacity="0.9">
    <rect x="24.4" y="18.3" width="24.3" height="29"/>
    <rect x="28.4" y="50" width="31.1" height="24.3"/>
  </g>
  <path d="M1.4 71.6 L9.5 50" stroke="#b83830" stroke-width="1.6"/>
  <g stroke="#1c1c1c" stroke-width="1.4"><line x1="14.9" y1="28.4" x2="23" y2="43.3"/><line x1="62.2" y1="20.3" x2="58" y2="47.3"/></g>
  <path d="M31.8 25 Q38 22 45.3 25 L45.3 38 Q38 40 31.8 38 Z" fill="#eef0ee"/>
  <path d="M33 39 L44 39 L43 44 L34 44 Z" fill="#4a4c4c"/>
  <circle cx="37.9" cy="27" r="4.7" fill="#151515"/>
  <path d="M33 54 Q44 50 55.4 54 L53 68 Q44 71 35 68 Z" fill="#f0f2f0"/>
  <circle cx="45.3" cy="57.5" r="4.7" fill="#151515"/>
  <path d="M40 69 L50 69 L48 74 L42 74 Z" fill="#302020"/>
  <path d="M63.5 10 Q72 7 81 11 L80 30 L64 31 Z" fill="#eceeec"/>
  <circle cx="73" cy="6" r="4.5" fill="#151515"/>
  <path d="M66 31 L78 31 L77 41 L68 41 Z" fill="#262626"/>
  <circle cx="12.9" cy="44" r="7" fill="#6c6e72"/>
  <path d="M8 50 L26 52 L28 68 L12 70 Z" fill="#7e9294"/>
  <path d="M24 60 L34 66 L30 74 L22 70 Z" fill="#3e4040"/>
</svg>
<!-- parking -->
<svg style="left:861px;top:377px" width="90" height="81" viewBox="0 0 90 81">
  <defs><linearGradient id="pkg" x1="0" y1="0" x2="1" y2="1"><stop offset="0" stop-color="#9a9c9a"/><stop offset="1" stop-color="#b2b4b2"/></linearGradient>
  <linearGradient id="ypost" x1="0" x2="1"><stop offset="0" stop-color="#f0d030"/><stop offset="0.6" stop-color="#e0b818"/><stop offset="1" stop-color="#b89010"/></linearGradient></defs>
  <rect width="90" height="81" fill="url(#pkg)"/>
  <rect width="90" height="31" fill="#8c7e70"/>
  <rect x="0" y="0" width="34" height="31" fill="#6e625a"/>
  <rect x="0" y="2.4" width="34" height="7" fill="#9a7058"/>
  <rect x="2.4" y="10.5" width="12" height="17.5" fill="#c4bcb4"/>
  <rect x="4" y="12" width="9" height="15" fill="#36404a"/>
  <rect x="15" y="12" width="18" height="17" fill="#4a4440"/>
  <g fill="#d0c8c0"><rect x="16" y="21" width="2.5" height="7"/><rect x="20" y="22" width="2.5" height="6"/><rect x="24" y="21" width="2.5" height="7"/><rect x="28" y="22" width="2.5" height="6"/></g>
  <rect x="64.5" y="0" width="25.5" height="31" fill="#9c8c7c"/>
  <path d="M0 31 L34 29 L4 37 L0 37 Z" fill="#4a4a48"/>
  <path d="M65 27.4 Q70 24 80 26 L88 30 L88 40 L65 40 Z" fill="#2c3a4e"/>
  <rect x="30.8" y="1" width="36.5" height="6.8" fill="#d8dcd8"/>
  <rect x="34.8" y="7" width="31" height="29" fill="#3a9858"/>
  <g fill="#8cc49a"><rect x="34.8" y="7" width="1.5" height="29"/><rect x="44" y="7" width="1.5" height="29"/><rect x="53" y="7" width="1.5" height="29"/><rect x="64" y="7" width="1.5" height="29"/></g>
  <rect x="36" y="36" width="30" height="27" fill="#b0b2b0"/>
  <rect x="57" y="44.3" width="13.6" height="4.7" fill="#f2f2f2"/>
  <rect x="45" y="33" width="6" height="14" fill="#2a2e34"/>
  <rect x="65.9" y="35.5" width="6.8" height="19.5" fill="url(#ypost)"/>
  <path d="M12 62 L52 60 L52 80 L12 81 Z" fill="#9a9c9a"/>
  <rect x="20.6" y="30.8" width="16.9" height="46" fill="url(#ypost)"/>
  <rect x="20.6" y="30.8" width="5" height="46" fill="#f4d83a"/>
  <rect x="37.5" y="36" width="4" height="44" fill="#a8aaa8"/>
  <rect x="1" y="41.6" width="23" height="4" fill="#f4f4f4"/>
  <rect x="7" y="41.6" width="3" height="4" fill="#c83030"/><rect x="15" y="41.6" width="3" height="4" fill="#c83030"/>
  <rect x="13" y="45.6" width="3" height="30" fill="#d4d0a8"/>
</svg>
<!-- broadcast room -->
<svg style="left:974px;top:379px" width="125" height="102" viewBox="0 0 125 102">
  <defs><linearGradient id="brw" x1="0" y1="0" x2="0" y2="1"><stop offset="0" stop-color="#d2d6ea"/><stop offset="1" stop-color="#bcc4dc"/></linearGradient>
  <linearGradient id="brb" x1="0" y1="0" x2="1" y2="0"><stop offset="0" stop-color="#d8dcec"/><stop offset="1" stop-color="#e2e4f0"/></linearGradient></defs>
  <rect width="125" height="102" fill="url(#brw)"/>
  <rect x="42" y="0" width="60" height="60" fill="url(#brb)"/>
  <rect x="32.8" y="16.5" width="12" height="31" fill="#c8ccda"/>
  <rect x="32.8" y="46.5" width="12" height="11" fill="#a88a78"/>
  <rect x="44.8" y="12.3" width="24.8" height="50.5" fill="#3c3e4a"/>
  <g fill="#c8c8d2"><rect x="46.5" y="16" width="12" height="4"/><rect x="46.5" y="23" width="12" height="4"/><rect x="46.5" y="30" width="12" height="4"/><rect x="46.5" y="37" width="12" height="3"/><rect x="46.5" y="44" width="10" height="3"/><rect x="46.5" y="50" width="10" height="3"/></g>
  <rect x="59.3" y="23.4" width="8.6" height="18" fill="#dcc840"/>
  <rect x="56.8" y="44.8" width="12" height="18.8" fill="#dadce6"/><rect x="58.5" y="47" width="8.5" height="13" fill="#3a3c46"/>
  <rect x="69.6" y="9.7" width="17.1" height="30.8" fill="#e6e8ee"/>
  <rect x="69.6" y="40.5" width="17.1" height="25.7" fill="#363842"/>
  <g fill="#8a8c98"><rect x="71" y="44" width="14" height="1.5"/><rect x="71" y="51" width="14" height="1.5"/><rect x="71" y="58" width="14" height="1.5"/></g>
  <path d="M86.7 8 L99.6 12 L99.6 67.9 L86.7 66 Z" fill="#8088b4"/>
  <rect x="99.6" y="0" width="25.4" height="102" fill="#24347a"/>
  <path d="M100.4 2.8 L123.5 4 L123.5 76.5 L100.4 74 Z" fill="#e2e2ec"/>
  <g fill="#8a8ca8"><rect x="101.5" y="5.0" width="1.6" height="1.6"/><rect x="105.9" y="5.0" width="1.6" height="1.6"/><rect x="110.3" y="5.0" width="1.6" height="1.6"/><rect x="114.7" y="5.0" width="1.6" height="1.6"/><rect x="119.1" y="5.0" width="1.6" height="1.6"/><rect x="101.5" y="10.0" width="1.6" height="1.6"/><rect x="105.9" y="10.0" width="1.6" height="1.6"/><rect x="110.3" y="10.0" width="1.6" height="1.6"/><rect x="114.7" y="10.0" width="1.6" height="1.6"/><rect x="119.1" y="10.0" width="1.6" height="1.6"/><rect x="101.5" y="15.0" width="1.6" height="1.6"/><rect x="105.9" y="15.0" width="1.6" height="1.6"/><rect x="110.3" y="15.0" width="1.6" height="1.6"/><rect x="114.7" y="15.0" width="1.6" height="1.6"/><rect x="119.1" y="15.0" width="1.6" height="1.6"/><rect x="101.5" y="20.0" width="1.6" height="1.6"/><rect x="105.9" y="20.0" width="1.6" height="1.6"/><rect x="110.3" y="20.0" width="1.6" height="1.6"/><rect x="114.7" y="20.0" width="1.6" height="1.6"/><rect x="119.1" y="20.0" width="1.6" height="1.6"/><rect x="101.5" y="25.0" width="1.6" height="1.6"/><rect x="105.9" y="25.0" width="1.6" height="1.6"/><rect x="110.3" y="25.0" width="1.6" height="1.6"/><rect x="114.7" y="25.0" width="1.6" height="1.6"/><rect x="119.1" y="25.0" width="1.6" height="1.6"/><rect x="101.5" y="30.0" width="1.6" height="1.6"/><rect x="105.9" y="30.0" width="1.6" height="1.6"/><rect x="110.3" y="30.0" width="1.6" height="1.6"/><rect x="114.7" y="30.0" width="1.6" height="1.6"/><rect x="119.1" y="30.0" width="1.6" height="1.6"/><rect x="101.5" y="35.0" width="1.6" height="1.6"/><rect x="105.9" y="35.0" width="1.6" height="1.6"/><rect x="110.3" y="35.0" width="1.6" height="1.6"/><rect x="114.7" y="35.0" width="1.6" height="1.6"/><rect x="119.1" y="35.0" width="1.6" height="1.6"/><rect x="101.5" y="40.0" width="1.6" height="1.6"/><rect x="105.9" y="40.0" width="1.6" height="1.6"/><rect x="110.3" y="40.0" width="1.6" height="1.6"/><rect x="114.7" y="40.0" width="1.6" height="1.6"/><rect x="119.1" y="40.0" width="1.6" height="1.6"/><rect x="101.5" y="45.0" width="1.6" height="1.6"/><rect x="105.9" y="45.0" width="1.6" height="1.6"/><rect x="110.3" y="45.0" width="1.6" height="1.6"/><rect x="114.7" y="45.0" width="1.6" height="1.6"/><rect x="119.1" y="45.0" width="1.6" height="1.6"/><rect x="101.5" y="50.0" width="1.6" height="1.6"/><rect x="105.9" y="50.0" width="1.6" height="1.6"/><rect x="110.3" y="50.0" width="1.6" height="1.6"/><rect x="114.7" y="50.0" width="1.6" height="1.6"/><rect x="119.1" y="50.0" width="1.6" height="1.6"/><rect x="101.5" y="55.0" width="1.6" height="1.6"/><rect x="105.9" y="55.0" width="1.6" height="1.6"/><rect x="110.3" y="55.0" width="1.6" height="1.6"/><rect x="114.7" y="55.0" width="1.6" height="1.6"/><rect x="119.1" y="55.0" width="1.6" height="1.6"/><rect x="101.5" y="60.0" width="1.6" height="1.6"/><rect x="105.9" y="60.0" width="1.6" height="1.6"/><rect x="110.3" y="60.0" width="1.6" height="1.6"/><rect x="114.7" y="60.0" width="1.6" height="1.6"/><rect x="119.1" y="60.0" width="1.6" height="1.6"/><rect x="101.5" y="65.0" width="1.6" height="1.6"/><rect x="105.9" y="65.0" width="1.6" height="1.6"/><rect x="110.3" y="65.0" width="1.6" height="1.6"/><rect x="114.7" y="65.0" width="1.6" height="1.6"/><rect x="119.1" y="65.0" width="1.6" height="1.6"/><rect x="101.5" y="70.0" width="1.6" height="1.6"/><rect x="105.9" y="70.0" width="1.6" height="1.6"/><rect x="110.3" y="70.0" width="1.6" height="1.6"/><rect x="114.7" y="70.0" width="1.6" height="1.6"/><rect x="119.1" y="70.0" width="1.6" height="1.6"/></g>
  <rect x="114.5" y="13" width="4" height="64" fill="#48b0ff"/>
  <rect x="113" y="13" width="7" height="64" fill="#60c0ff" opacity="0.35"/>
  <path d="M20 61 L60 58 L100 70 L125 92 L125 102 L70 102 L55 78 L20 66 Z" fill="#dde1ee"/>
  <path d="M49 75 L70 76 L72 102 L49 102 Z" fill="#c4c8d6"/>
  <rect x="62" y="80" width="7" height="22" fill="#2a2c36"/>
  <path d="M58 69.6 L92 72 L96 78 L62 76 Z" fill="#2c2e38"/>
  <rect x="21" y="59" width="10" height="3.5" rx="1.5" fill="#3a3c48"/>
  <rect x="0" y="92" width="52" height="10" fill="#8a6a4c"/>
  <path d="M11 64 Q14 60 19 66 L24 84 L34 80 Q42 80 42 86 L40 94 L26 98 L16 92 Z" fill="#1e1e28"/>
  <path d="M26 78 Q38 74 42 84" fill="none" stroke="#1e1e28" stroke-width="2"/>
  <line x1="28" y1="96" x2="28" y2="102" stroke="#222" stroke-width="2"/>
</svg>
<!-- monitor room -->
<svg style="left:1118px;top:371px" width="131" height="118" viewBox="0 0 131 118">
  <defs><linearGradient id="mrc" x1="0" y1="0" x2="0" y2="1"><stop offset="0" stop-color="#ece8e2"/><stop offset="1" stop-color="#d8d6d0"/></linearGradient></defs>
  <rect width="131" height="118" fill="#d4d8d4"/>
  <rect width="131" height="21" fill="url(#mrc)"/>
  <path d="M0 21 L131 19 L131 23 L0 26 Z" fill="#b8bab4"/>
  <rect x="0" y="26" width="131" height="8" fill="#dcdedb"/>
  <rect x="0" y="29" width="18.6" height="42" fill="#f4f6f8"/>
  <g stroke="#9aa0a6" stroke-width="0.8"><line x1="6" y1="29" x2="6" y2="71"/><line x1="12" y1="29" x2="12" y2="71"/><line x1="0" y1="50" x2="18" y2="50"/></g>
  <rect x="20" y="32" width="95" height="39" fill="#c6ccd0"/>
<rect x="21.5" y="33.5" width="11.8" height="7.6" fill="#4c5a78"/>
<rect x="22.5" y="34.5" width="7.1" height="4.4" fill="#c8d4e4" opacity="0.85"/>
<rect x="34.8" y="33.5" width="11.8" height="7.6" fill="#4c5a78"/>
<rect x="35.8" y="34.5" width="8.0" height="4.9" fill="#c8d4e4" opacity="0.85"/>
<rect x="48.1" y="33.5" width="11.8" height="7.6" fill="#4c5a78"/>
<rect x="49.1" y="34.5" width="7.7" height="4.8" fill="#c8d4e4" opacity="0.85"/>
<rect x="61.4" y="33.5" width="11.8" height="7.6" fill="#4c5a78"/>
<rect x="62.4" y="34.5" width="4.1" height="3.7" fill="#c8d4e4" opacity="0.85"/>
<rect x="74.7" y="33.5" width="11.8" height="7.6" fill="#4c5a78"/>
<rect x="75.7" y="34.5" width="8.7" height="4.1" fill="#c8d4e4" opacity="0.85"/>
<rect x="88.0" y="33.5" width="11.8" height="7.6" fill="#4c5a78"/>
<rect x="89.0" y="34.5" width="8.5" height="2.8" fill="#c8d4e4" opacity="0.85"/>
<rect x="101.3" y="33.5" width="11.8" height="7.6" fill="#4c5a78"/>
<rect x="102.3" y="34.5" width="6.3" height="3.1" fill="#c8d4e4" opacity="0.85"/>
<rect x="21.5" y="42.5" width="11.8" height="7.6" fill="#4c5a78"/>
<rect x="22.5" y="43.5" width="6.7" height="3.9" fill="#c8d4e4" opacity="0.85"/>
<rect x="34.8" y="42.5" width="11.8" height="7.6" fill="#4c5a78"/>
<rect x="35.8" y="43.5" width="4.1" height="3.0" fill="#c8d4e4" opacity="0.85"/>
<rect x="48.1" y="42.5" width="11.8" height="7.6" fill="#4c5a78"/>
<rect x="49.1" y="43.5" width="5.4" height="4.8" fill="#c8d4e4" opacity="0.85"/>
<rect x="61.4" y="42.5" width="11.8" height="7.6" fill="#4c5a78"/>
<rect x="62.4" y="43.5" width="7.8" height="2.9" fill="#c8d4e4" opacity="0.85"/>
<rect x="74.7" y="42.5" width="11.8" height="7.6" fill="#4c5a78"/>
<rect x="75.7" y="43.5" width="8.0" height="2.8" fill="#c8d4e4" opacity="0.85"/>
<rect x="88.0" y="42.5" width="11.8" height="7.6" fill="#4c5a78"/>
<rect x="89.0" y="43.5" width="7.1" height="2.8" fill="#c8d4e4" opacity="0.85"/>
<rect x="101.3" y="42.5" width="11.8" height="7.6" fill="#4c5a78"/>
<rect x="102.3" y="43.5" width="4.0" height="4.7" fill="#c8d4e4" opacity="0.85"/>
<rect x="21.5" y="51.5" width="11.8" height="7.6" fill="#4c5a78"/>
<rect x="22.5" y="52.5" width="5.0" height="3.0" fill="#c8d4e4" opacity="0.85"/>
<rect x="34.8" y="51.5" width="11.8" height="7.6" fill="#4c5a78"/>
<rect x="35.8" y="52.5" width="8.9" height="4.7" fill="#c8d4e4" opacity="0.85"/>
<rect x="48.1" y="51.5" width="11.8" height="7.6" fill="#4c5a78"/>
<rect x="49.1" y="52.5" width="5.4" height="4.9" fill="#c8d4e4" opacity="0.85"/>
<rect x="61.4" y="51.5" width="11.8" height="7.6" fill="#4c5a78"/>
<rect x="62.4" y="52.5" width="6.7" height="4.2" fill="#c8d4e4" opacity="0.85"/>
<rect x="74.7" y="51.5" width="11.8" height="7.6" fill="#4c5a78"/>
<rect x="75.7" y="52.5" width="5.0" height="4.9" fill="#c8d4e4" opacity="0.85"/>
<rect x="88.0" y="51.5" width="11.8" height="7.6" fill="#4c5a78"/>
<rect x="89.0" y="52.5" width="7.5" height="4.9" fill="#c8d4e4" opacity="0.85"/>
<rect x="101.3" y="51.5" width="11.8" height="7.6" fill="#4c5a78"/>
<rect x="102.3" y="52.5" width="8.5" height="3.2" fill="#c8d4e4" opacity="0.85"/>
<rect x="21.5" y="60.5" width="11.8" height="7.6" fill="#4c5a78"/>
<rect x="22.5" y="61.5" width="5.8" height="2.9" fill="#c8d4e4" opacity="0.85"/>
<rect x="34.8" y="60.5" width="11.8" height="7.6" fill="#4c5a78"/>
<rect x="35.8" y="61.5" width="4.7" height="2.7" fill="#c8d4e4" opacity="0.85"/>
<rect x="48.1" y="60.5" width="11.8" height="7.6" fill="#4c5a78"/>
<rect x="49.1" y="61.5" width="5.5" height="4.0" fill="#c8d4e4" opacity="0.85"/>
<rect x="61.4" y="60.5" width="11.8" height="7.6" fill="#4c5a78"/>
<rect x="62.4" y="61.5" width="4.0" height="4.2" fill="#c8d4e4" opacity="0.85"/>
<rect x="74.7" y="60.5" width="11.8" height="7.6" fill="#4c5a78"/>
<rect x="75.7" y="61.5" width="5.7" height="3.3" fill="#c8d4e4" opacity="0.85"/>
<rect x="88.0" y="60.5" width="11.8" height="7.6" fill="#4c5a78"/>
<rect x="89.0" y="61.5" width="8.1" height="3.7" fill="#c8d4e4" opacity="0.85"/>
<rect x="101.3" y="60.5" width="11.8" height="7.6" fill="#4c5a78"/>
<rect x="102.3" y="61.5" width="5.6" height="3.7" fill="#c8d4e4" opacity="0.85"/>
  <rect x="112" y="28" width="19" height="90" fill="#e2e2de"/>
  <rect x="115.8" y="29.3" width="12" height="49" fill="#f6f6f4"/>
  <rect x="115.8" y="69.5" width="15" height="21" fill="#6c4c3c"/>
  <path d="M77 96 L131 92 L131 118 L80 118 Z" fill="#cfd0cc"/>
  <rect x="2.4" y="62" width="12" height="13.5" fill="#262626"/><rect x="3.9" y="63.5" width="9" height="9" fill="#6a7a88"/>
  <rect x="29.3" y="63.6" width="17.9" height="17.9" fill="#1e1e22"/><rect x="30.8" y="65" width="15" height="14" fill="#4a4e5a"/>
  <rect x="48.7" y="63.6" width="22.3" height="19.4" fill="#1e1e22"/><rect x="50.3" y="65.2" width="19.2" height="9" fill="#4a84d8"/><rect x="50.3" y="74" width="19.2" height="7" fill="#48a848"/>
  <rect x="36" y="82" width="30" height="3" fill="#e8e8e8"/>
  <path d="M0 84 L20 84.4 L80 88 L80 94 L0 92 Z" fill="#ece4da"/>
  <path d="M22 92 L78 94 L76 118 L22 118 Z" fill="#a8704c"/>
  <path d="M0 92 L22 92 L22 118 L0 118 Z" fill="#5a3e30"/>
  <path d="M52 96 L62 96 L64 118 L54 118 Z" fill="#d0c0b0"/>
  <path d="M7 76 Q10 68 20 70 L28 90 L27 108 L8 110 Z" fill="#1a1a1e"/>
  <ellipse cx="15.8" cy="68" rx="5" ry="5.5" fill="#201818"/>
  <g fill="#3c6c30"><ellipse cx="94" cy="94" rx="12" ry="11"/><ellipse cx="84" cy="102" rx="7" ry="8"/><ellipse cx="104" cy="102" rx="8" ry="9"/><ellipse cx="96" cy="82" rx="6" ry="7"/></g>
  <g fill="#6aa04a"><ellipse cx="92" cy="88" rx="5" ry="4"/><ellipse cx="101" cy="98" rx="4" ry="4"/><ellipse cx="85" cy="98" rx="3" ry="4"/></g>
  <rect x="91" y="108" width="7" height="7" fill="#a05a3a"/>
</svg>
<!-- kiosk -->
<svg style="left:1268px;top:371px" width="67" height="172" viewBox="0 0 67 172">
  <defs>
    <linearGradient id="kstr" x1="0" x2="1"><stop offset="0" stop-color="#9a9a9a"/><stop offset="0.5" stop-color="#d0d0d0"/><stop offset="1" stop-color="#8a8a8a"/></linearGradient>
    <radialGradient id="scr" cx="0.5" cy="0.42" r="0.7"><stop offset="0" stop-color="#eaf2ee"/><stop offset="0.3" stop-color="#e4e8d8"/><stop offset="0.6" stop-color="#eeb088"/><stop offset="0.85" stop-color="#e87058"/><stop offset="1" stop-color="#d05070"/></radialGradient>
  </defs>
  <rect width="67" height="172" fill="#6a6460"/>
  <rect x="0" y="0" width="10.5" height="172" fill="url(#kstr)"/><rect x="0" y="25" width="4" height="70" fill="#a07850" opacity="0.3"/>
  <path d="M9 4 Q9 1 13 1 L62 3 Q66 4 66 8 L66 172 L9 172 Z" fill="#1c1c1e"/>
  <rect x="9" y="2" width="2" height="170" fill="#bcbcbc"/>
  <rect x="13.5" y="11" width="49.5" height="133" fill="url(#scr)"/>
  <rect x="13.5" y="11" width="49.5" height="6" fill="#6470cc"/>
  
  <g stroke="#d8eef8" stroke-width="2.4" opacity="0.6"><line x1="38" y1="62" x2="16" y2="30"/><line x1="38" y1="62" x2="60" y2="30"/><line x1="38" y1="62" x2="14" y2="76"/><line x1="38" y1="62" x2="62" y2="80"/><line x1="38" y1="62" x2="38" y2="26"/><line x1="38" y1="62" x2="26" y2="104"/><line x1="38" y1="62" x2="52" y2="104"/><line x1="38" y1="62" x2="14" y2="52"/><line x1="38" y1="62" x2="62" y2="54"/></g>
  <rect x="31" y="55" width="12" height="16" rx="2" fill="#c0c448"/>
  <rect x="33" y="82" width="10" height="3" fill="#f0e8d0" opacity="0.7"/>
  <path d="M13.5 114 Q38 106 63 112 L63 124 Q38 118 13.5 126 Z" fill="#8a88e0"/>
  <rect x="13.5" y="124" width="49.5" height="20" fill="#d44a7a"/>
  <rect x="20" y="131" width="36" height="2" fill="#f4d0e0"/>
  <rect x="24" y="136" width="26" height="1.5" fill="#e8b0c8"/>
</svg>
<!-- cabling -->
<svg style="left:588px;top:124px" width="99" height="82" viewBox="0 0 99 82">
<rect width="99" height="82" fill="#2e323a"/>
<rect x="0" y="0" width="99" height="6" fill="#16181c"/>
<rect x="0" y="0" width="6" height="82" fill="#3e424a"/><rect x="88" y="0" width="11" height="82" fill="#464a54"/>
<path d="M0 22 Q20 34 40 32 L60 32 Q80 34 99 24 L99 34 L0 34 Z" fill="#3a74c0"/>
<path d="M8.0 14 Q8.0 30.8 -3.3 30.8" stroke="#3e78c4" stroke-width="2.1" fill="none"/>
<path d="M11.2 14 Q11.2 31.1 -9.6 31.1" stroke="#4a86d0" stroke-width="2.1" fill="none"/>
<path d="M14.4 14 Q14.4 29.4 -2.1 29.4" stroke="#6aa2e4" stroke-width="2.1" fill="none"/>
<path d="M17.6 14 Q17.6 32.1 6.0 32.1" stroke="#6aa2e4" stroke-width="2.1" fill="none"/>
<path d="M20.8 14 Q20.8 30.8 5.2 30.8" stroke="#6aa2e4" stroke-width="2.1" fill="none"/>
<path d="M24.0 14 Q24.0 32.4 7.1 32.4" stroke="#5a94dc" stroke-width="2.1" fill="none"/>
<path d="M27.2 14 Q27.2 30.9 7.0 30.9" stroke="#4a86d0" stroke-width="2.1" fill="none"/>
<path d="M30.4 14 Q30.4 32.7 13.0 32.7" stroke="#4a86d0" stroke-width="2.1" fill="none"/>
<path d="M33.6 14 Q33.6 32.9 21.4 32.9" stroke="#3e78c4" stroke-width="2.1" fill="none"/>
<path d="M36.8 14 Q36.8 30.1 22.2 30.1" stroke="#6aa2e4" stroke-width="2.1" fill="none"/>
<path d="M40.0 14 Q40.0 29.3 22.0 29.3" stroke="#6aa2e4" stroke-width="2.1" fill="none"/>
<path d="M43.2 14 Q43.2 30.7 25.0 30.7" stroke="#5a94dc" stroke-width="2.1" fill="none"/>
<path d="M46.4 14 Q46.4 32.6 26.1 32.6" stroke="#5a94dc" stroke-width="2.1" fill="none"/>
<path d="M49.6 14 Q49.6 32.0 64.5 32.0" stroke="#6aa2e4" stroke-width="2.1" fill="none"/>
<path d="M52.8 14 Q52.8 29.6 71.7 29.6" stroke="#6aa2e4" stroke-width="2.1" fill="none"/>
<path d="M56.0 14 Q56.0 31.5 71.1 31.5" stroke="#3e78c4" stroke-width="2.1" fill="none"/>
<path d="M59.2 14 Q59.2 31.4 74.7 31.4" stroke="#5a94dc" stroke-width="2.1" fill="none"/>
<path d="M62.4 14 Q62.4 30.3 83.1 30.3" stroke="#4a86d0" stroke-width="2.1" fill="none"/>
<path d="M65.6 14 Q65.6 29.0 85.6 29.0" stroke="#5a94dc" stroke-width="2.1" fill="none"/>
<path d="M68.8 14 Q68.8 31.7 86.6 31.7" stroke="#4a86d0" stroke-width="2.1" fill="none"/>
<path d="M72.0 14 Q72.0 32.2 90.0 32.2" stroke="#3e78c4" stroke-width="2.1" fill="none"/>
<path d="M75.2 14 Q75.2 32.7 87.2 32.7" stroke="#6aa2e4" stroke-width="2.1" fill="none"/>
<path d="M78.4 14 Q78.4 29.8 87.6 29.8" stroke="#6aa2e4" stroke-width="2.1" fill="none"/>
<path d="M81.6 14 Q81.6 32.9 102.2 32.9" stroke="#6aa2e4" stroke-width="2.1" fill="none"/>
<path d="M84.8 14 Q84.8 29.5 103.6 29.5" stroke="#4a86d0" stroke-width="2.1" fill="none"/>
<path d="M88.0 14 Q88.0 30.0 104.5 30.0" stroke="#6aa2e4" stroke-width="2.1" fill="none"/>
<rect x="7" y="6.6" width="82" height="14.1" fill="#d2cad2"/>
<rect x="8.0" y="8.7" width="1.8" height="3.2" fill="#7a7080"/>
<rect x="11.2" y="8.7" width="1.8" height="3.2" fill="#7a7080"/>
<rect x="14.4" y="8.7" width="1.8" height="3.2" fill="#7a7080"/>
<rect x="17.6" y="8.7" width="1.8" height="3.2" fill="#7a7080"/>
<rect x="20.8" y="8.7" width="1.8" height="3.2" fill="#7a7080"/>
<rect x="24.0" y="8.7" width="1.8" height="3.2" fill="#7a7080"/>
<rect x="27.2" y="8.7" width="1.8" height="3.2" fill="#7a7080"/>
<rect x="30.4" y="8.7" width="1.8" height="3.2" fill="#7a7080"/>
<rect x="33.6" y="8.7" width="1.8" height="3.2" fill="#7a7080"/>
<rect x="36.8" y="8.7" width="1.8" height="3.2" fill="#7a7080"/>
<rect x="40.0" y="8.7" width="1.8" height="3.2" fill="#7a7080"/>
<rect x="43.2" y="8.7" width="1.8" height="3.2" fill="#7a7080"/>
<rect x="46.4" y="8.7" width="1.8" height="3.2" fill="#7a7080"/>
<rect x="49.6" y="8.7" width="1.8" height="3.2" fill="#7a7080"/>
<rect x="52.8" y="8.7" width="1.8" height="3.2" fill="#7a7080"/>
<rect x="56.0" y="8.7" width="1.8" height="3.2" fill="#7a7080"/>
<rect x="59.2" y="8.7" width="1.8" height="3.2" fill="#7a7080"/>
<rect x="62.4" y="8.7" width="1.8" height="3.2" fill="#7a7080"/>
<rect x="65.6" y="8.7" width="1.8" height="3.2" fill="#7a7080"/>
<rect x="68.8" y="8.7" width="1.8" height="3.2" fill="#7a7080"/>
<rect x="72.0" y="8.7" width="1.8" height="3.2" fill="#7a7080"/>
<rect x="75.2" y="8.7" width="1.8" height="3.2" fill="#7a7080"/>
<rect x="78.4" y="8.7" width="1.8" height="3.2" fill="#7a7080"/>
<rect x="81.6" y="8.7" width="1.8" height="3.2" fill="#7a7080"/>
<rect x="84.8" y="8.7" width="1.8" height="3.2" fill="#7a7080"/>
<rect x="8.0" y="15.8" width="1.8" height="3.2" fill="#7a7080"/>
<rect x="11.2" y="15.8" width="1.8" height="3.2" fill="#7a7080"/>
<rect x="14.4" y="15.8" width="1.8" height="3.2" fill="#7a7080"/>
<rect x="17.6" y="15.8" width="1.8" height="3.2" fill="#7a7080"/>
<rect x="20.8" y="15.8" width="1.8" height="3.2" fill="#7a7080"/>
<rect x="24.0" y="15.8" width="1.8" height="3.2" fill="#7a7080"/>
<rect x="27.2" y="15.8" width="1.8" height="3.2" fill="#7a7080"/>
<rect x="30.4" y="15.8" width="1.8" height="3.2" fill="#7a7080"/>
<rect x="33.6" y="15.8" width="1.8" height="3.2" fill="#7a7080"/>
<rect x="36.8" y="15.8" width="1.8" height="3.2" fill="#7a7080"/>
<rect x="40.0" y="15.8" width="1.8" height="3.2" fill="#7a7080"/>
<rect x="43.2" y="15.8" width="1.8" height="3.2" fill="#7a7080"/>
<rect x="46.4" y="15.8" width="1.8" height="3.2" fill="#7a7080"/>
<rect x="49.6" y="15.8" width="1.8" height="3.2" fill="#7a7080"/>
<rect x="52.8" y="15.8" width="1.8" height="3.2" fill="#7a7080"/>
<rect x="56.0" y="15.8" width="1.8" height="3.2" fill="#7a7080"/>
<rect x="59.2" y="15.8" width="1.8" height="3.2" fill="#7a7080"/>
<rect x="62.4" y="15.8" width="1.8" height="3.2" fill="#7a7080"/>
<rect x="65.6" y="15.8" width="1.8" height="3.2" fill="#7a7080"/>
<rect x="68.8" y="15.8" width="1.8" height="3.2" fill="#7a7080"/>
<rect x="72.0" y="15.8" width="1.8" height="3.2" fill="#7a7080"/>
<rect x="75.2" y="15.8" width="1.8" height="3.2" fill="#7a7080"/>
<rect x="78.4" y="15.8" width="1.8" height="3.2" fill="#7a7080"/>
<rect x="81.6" y="15.8" width="1.8" height="3.2" fill="#7a7080"/>
<rect x="84.8" y="15.8" width="1.8" height="3.2" fill="#7a7080"/>
<path d="M0 50 Q20 58 45 58 L55 58 Q80 58 99 50 L99 58 L0 58 Z" fill="#3a74c0"/>
<path d="M15.0 44 Q15.0 56.7 -3.1 56.7" stroke="#3e78c4" stroke-width="2.1" fill="none"/>
<path d="M18.3 44 Q18.3 54.0 3.2 54.0" stroke="#3e78c4" stroke-width="2.1" fill="none"/>
<path d="M21.6 44 Q21.6 57.6 13.5 57.6" stroke="#4a86d0" stroke-width="2.1" fill="none"/>
<path d="M24.9 44 Q24.9 54.1 3.6 54.1" stroke="#3e78c4" stroke-width="2.1" fill="none"/>
<path d="M28.1 44 Q28.1 57.4 11.6 57.4" stroke="#4a86d0" stroke-width="2.1" fill="none"/>
<path d="M31.4 44 Q31.4 56.6 9.7 56.6" stroke="#3e78c4" stroke-width="2.1" fill="none"/>
<path d="M34.7 44 Q34.7 54.4 13.3 54.4" stroke="#6aa2e4" stroke-width="2.1" fill="none"/>
<path d="M38.0 44 Q38.0 54.5 24.7 54.5" stroke="#6aa2e4" stroke-width="2.1" fill="none"/>
<path d="M41.3 44 Q41.3 55.6 24.3 55.6" stroke="#4a86d0" stroke-width="2.1" fill="none"/>
<path d="M44.6 44 Q44.6 54.2 27.9 54.2" stroke="#3e78c4" stroke-width="2.1" fill="none"/>
<path d="M47.9 44 Q47.9 55.1 33.8 55.1" stroke="#5a94dc" stroke-width="2.1" fill="none"/>
<path d="M51.1 44 Q51.1 56.3 72.3 56.3" stroke="#3e78c4" stroke-width="2.1" fill="none"/>
<path d="M54.4 44 Q54.4 55.8 69.7 55.8" stroke="#4a86d0" stroke-width="2.1" fill="none"/>
<path d="M57.7 44 Q57.7 54.1 76.8 54.1" stroke="#3e78c4" stroke-width="2.1" fill="none"/>
<path d="M61.0 44 Q61.0 55.5 69.3 55.5" stroke="#5a94dc" stroke-width="2.1" fill="none"/>
<path d="M64.3 44 Q64.3 55.5 73.1 55.5" stroke="#6aa2e4" stroke-width="2.1" fill="none"/>
<path d="M67.6 44 Q67.6 54.3 80.5 54.3" stroke="#3e78c4" stroke-width="2.1" fill="none"/>
<path d="M70.9 44 Q70.9 57.9 89.2 57.9" stroke="#4a86d0" stroke-width="2.1" fill="none"/>
<path d="M74.1 44 Q74.1 57.9 95.5 57.9" stroke="#3e78c4" stroke-width="2.1" fill="none"/>
<path d="M77.4 44 Q77.4 56.2 88.9 56.2" stroke="#3e78c4" stroke-width="2.1" fill="none"/>
<path d="M80.7 44 Q80.7 57.3 91.2 57.3" stroke="#3e78c4" stroke-width="2.1" fill="none"/>
<path d="M84.0 44 Q84.0 56.9 103.8 56.9" stroke="#6aa2e4" stroke-width="2.1" fill="none"/>
<rect x="14" y="36.3" width="70.5" height="10.600000000000001" fill="#d2cad2"/>
<rect x="15.0" y="37.9" width="1.8" height="2.4" fill="#7a7080"/>
<rect x="18.2" y="37.9" width="1.8" height="2.4" fill="#7a7080"/>
<rect x="21.4" y="37.9" width="1.8" height="2.4" fill="#7a7080"/>
<rect x="24.6" y="37.9" width="1.8" height="2.4" fill="#7a7080"/>
<rect x="27.8" y="37.9" width="1.8" height="2.4" fill="#7a7080"/>
<rect x="31.0" y="37.9" width="1.8" height="2.4" fill="#7a7080"/>
<rect x="34.2" y="37.9" width="1.8" height="2.4" fill="#7a7080"/>
<rect x="37.4" y="37.9" width="1.8" height="2.4" fill="#7a7080"/>
<rect x="40.6" y="37.9" width="1.8" height="2.4" fill="#7a7080"/>
<rect x="43.8" y="37.9" width="1.8" height="2.4" fill="#7a7080"/>
<rect x="47.0" y="37.9" width="1.8" height="2.4" fill="#7a7080"/>
<rect x="50.2" y="37.9" width="1.8" height="2.4" fill="#7a7080"/>
<rect x="53.4" y="37.9" width="1.8" height="2.4" fill="#7a7080"/>
<rect x="56.6" y="37.9" width="1.8" height="2.4" fill="#7a7080"/>
<rect x="59.8" y="37.9" width="1.8" height="2.4" fill="#7a7080"/>
<rect x="63.0" y="37.9" width="1.8" height="2.4" fill="#7a7080"/>
<rect x="66.2" y="37.9" width="1.8" height="2.4" fill="#7a7080"/>
<rect x="69.4" y="37.9" width="1.8" height="2.4" fill="#7a7080"/>
<rect x="72.6" y="37.9" width="1.8" height="2.4" fill="#7a7080"/>
<rect x="75.8" y="37.9" width="1.8" height="2.4" fill="#7a7080"/>
<rect x="79.0" y="37.9" width="1.8" height="2.4" fill="#7a7080"/>
<rect x="82.2" y="37.9" width="1.8" height="2.4" fill="#7a7080"/>
<rect x="15.0" y="43.2" width="1.8" height="2.4" fill="#7a7080"/>
<rect x="18.2" y="43.2" width="1.8" height="2.4" fill="#7a7080"/>
<rect x="21.4" y="43.2" width="1.8" height="2.4" fill="#7a7080"/>
<rect x="24.6" y="43.2" width="1.8" height="2.4" fill="#7a7080"/>
<rect x="27.8" y="43.2" width="1.8" height="2.4" fill="#7a7080"/>
<rect x="31.0" y="43.2" width="1.8" height="2.4" fill="#7a7080"/>
<rect x="34.2" y="43.2" width="1.8" height="2.4" fill="#7a7080"/>
<rect x="37.4" y="43.2" width="1.8" height="2.4" fill="#7a7080"/>
<rect x="40.6" y="43.2" width="1.8" height="2.4" fill="#7a7080"/>
<rect x="43.8" y="43.2" width="1.8" height="2.4" fill="#7a7080"/>
<rect x="47.0" y="43.2" width="1.8" height="2.4" fill="#7a7080"/>
<rect x="50.2" y="43.2" width="1.8" height="2.4" fill="#7a7080"/>
<rect x="53.4" y="43.2" width="1.8" height="2.4" fill="#7a7080"/>
<rect x="56.6" y="43.2" width="1.8" height="2.4" fill="#7a7080"/>
<rect x="59.8" y="43.2" width="1.8" height="2.4" fill="#7a7080"/>
<rect x="63.0" y="43.2" width="1.8" height="2.4" fill="#7a7080"/>
<rect x="66.2" y="43.2" width="1.8" height="2.4" fill="#7a7080"/>
<rect x="69.4" y="43.2" width="1.8" height="2.4" fill="#7a7080"/>
<rect x="72.6" y="43.2" width="1.8" height="2.4" fill="#7a7080"/>
<rect x="75.8" y="43.2" width="1.8" height="2.4" fill="#7a7080"/>
<rect x="79.0" y="43.2" width="1.8" height="2.4" fill="#7a7080"/>
<rect x="82.2" y="43.2" width="1.8" height="2.4" fill="#7a7080"/>
<path d="M0 72 Q20 80 45 80 L55 80 Q80 80 99 72 L99 82 L0 82 Z" fill="#3a74c0"/>
<path d="M20.0 64 Q20.0 77.7 10.5 77.7" stroke="#5a94dc" stroke-width="2.1" fill="none"/>
<path d="M23.4 64 Q23.4 80.1 11.0 80.1" stroke="#3e78c4" stroke-width="2.1" fill="none"/>
<path d="M26.7 64 Q26.7 80.3 15.4 80.3" stroke="#6aa2e4" stroke-width="2.1" fill="none"/>
<path d="M30.1 64 Q30.1 80.6 13.0 80.6" stroke="#3e78c4" stroke-width="2.1" fill="none"/>
<path d="M33.4 64 Q33.4 78.3 12.1 78.3" stroke="#5a94dc" stroke-width="2.1" fill="none"/>
<path d="M36.8 64 Q36.8 77.6 22.6 77.6" stroke="#5a94dc" stroke-width="2.1" fill="none"/>
<path d="M40.1 64 Q40.1 78.0 31.0 78.0" stroke="#5a94dc" stroke-width="2.1" fill="none"/>
<path d="M43.5 64 Q43.5 79.2 23.1 79.2" stroke="#5a94dc" stroke-width="2.1" fill="none"/>
<path d="M46.8 64 Q46.8 80.9 27.8 80.9" stroke="#5a94dc" stroke-width="2.1" fill="none"/>
<path d="M50.2 64 Q50.2 77.7 62.6 77.7" stroke="#5a94dc" stroke-width="2.1" fill="none"/>
<path d="M53.5 64 Q53.5 79.6 73.6 79.6" stroke="#4a86d0" stroke-width="2.1" fill="none"/>
<path d="M56.9 64 Q56.9 79.6 76.2 79.6" stroke="#5a94dc" stroke-width="2.1" fill="none"/>
<path d="M60.2 64 Q60.2 78.9 74.1 78.9" stroke="#3e78c4" stroke-width="2.1" fill="none"/>
<path d="M63.6 64 Q63.6 78.5 78.1 78.5" stroke="#3e78c4" stroke-width="2.1" fill="none"/>
<path d="M66.9 64 Q66.9 79.4 80.8 79.4" stroke="#6aa2e4" stroke-width="2.1" fill="none"/>
<path d="M70.3 64 Q70.3 81.0 80.5 81.0" stroke="#6aa2e4" stroke-width="2.1" fill="none"/>
<path d="M73.6 64 Q73.6 77.1 89.5 77.1" stroke="#5a94dc" stroke-width="2.1" fill="none"/>
<path d="M77.0 64 Q77.0 79.2 85.5 79.2" stroke="#3e78c4" stroke-width="2.1" fill="none"/>
<rect x="19.5" y="58.9" width="57.900000000000006" height="7.800000000000004" fill="#d2cad2"/>
<rect x="20.5" y="60.1" width="1.8" height="1.8" fill="#7a7080"/>
<rect x="23.7" y="60.1" width="1.8" height="1.8" fill="#7a7080"/>
<rect x="26.9" y="60.1" width="1.8" height="1.8" fill="#7a7080"/>
<rect x="30.1" y="60.1" width="1.8" height="1.8" fill="#7a7080"/>
<rect x="33.3" y="60.1" width="1.8" height="1.8" fill="#7a7080"/>
<rect x="36.5" y="60.1" width="1.8" height="1.8" fill="#7a7080"/>
<rect x="39.7" y="60.1" width="1.8" height="1.8" fill="#7a7080"/>
<rect x="42.9" y="60.1" width="1.8" height="1.8" fill="#7a7080"/>
<rect x="46.1" y="60.1" width="1.8" height="1.8" fill="#7a7080"/>
<rect x="49.3" y="60.1" width="1.8" height="1.8" fill="#7a7080"/>
<rect x="52.5" y="60.1" width="1.8" height="1.8" fill="#7a7080"/>
<rect x="55.7" y="60.1" width="1.8" height="1.8" fill="#7a7080"/>
<rect x="58.9" y="60.1" width="1.8" height="1.8" fill="#7a7080"/>
<rect x="62.1" y="60.1" width="1.8" height="1.8" fill="#7a7080"/>
<rect x="65.3" y="60.1" width="1.8" height="1.8" fill="#7a7080"/>
<rect x="68.5" y="60.1" width="1.8" height="1.8" fill="#7a7080"/>
<rect x="71.7" y="60.1" width="1.8" height="1.8" fill="#7a7080"/>
<rect x="74.9" y="60.1" width="1.8" height="1.8" fill="#7a7080"/>
<rect x="20.5" y="64.0" width="1.8" height="1.8" fill="#7a7080"/>
<rect x="23.7" y="64.0" width="1.8" height="1.8" fill="#7a7080"/>
<rect x="26.9" y="64.0" width="1.8" height="1.8" fill="#7a7080"/>
<rect x="30.1" y="64.0" width="1.8" height="1.8" fill="#7a7080"/>
<rect x="33.3" y="64.0" width="1.8" height="1.8" fill="#7a7080"/>
<rect x="36.5" y="64.0" width="1.8" height="1.8" fill="#7a7080"/>
<rect x="39.7" y="64.0" width="1.8" height="1.8" fill="#7a7080"/>
<rect x="42.9" y="64.0" width="1.8" height="1.8" fill="#7a7080"/>
<rect x="46.1" y="64.0" width="1.8" height="1.8" fill="#7a7080"/>
<rect x="49.3" y="64.0" width="1.8" height="1.8" fill="#7a7080"/>
<rect x="52.5" y="64.0" width="1.8" height="1.8" fill="#7a7080"/>
<rect x="55.7" y="64.0" width="1.8" height="1.8" fill="#7a7080"/>
<rect x="58.9" y="64.0" width="1.8" height="1.8" fill="#7a7080"/>
<rect x="62.1" y="64.0" width="1.8" height="1.8" fill="#7a7080"/>
<rect x="65.3" y="64.0" width="1.8" height="1.8" fill="#7a7080"/>
<rect x="68.5" y="64.0" width="1.8" height="1.8" fill="#7a7080"/>
<rect x="71.7" y="64.0" width="1.8" height="1.8" fill="#7a7080"/>
<rect x="74.9" y="64.0" width="1.8" height="1.8" fill="#7a7080"/>
</svg>


<svg width="1403" height="637" viewBox="0 0 1403 637">
  <!-- cylinder -->
  <line x1="35" y1="245" x2="1338" y2="245" stroke="#5088c2" stroke-width="2"/>
  <line x1="35" y1="308.5" x2="1338" y2="308.5" stroke="#5088c2" stroke-width="2"/>
  <ellipse cx="35.3" cy="276.7" rx="19.3" ry="32.6" fill="#1aa845" stroke="#3c6f9e" stroke-width="2"/>
  <ellipse cx="1338.4" cy="277.5" rx="19.5" ry="32.6" fill="#1aa845" stroke="#3c6f9e" stroke-width="2"/>
  <!-- green connectors -->
  <g stroke="#1fa345" stroke-width="3" fill="none">
    <line x1="301.3" y1="206" x2="301.3" y2="222.5"/>
    <line x1="428" y1="207" x2="428" y2="246"/>
    <line x1="524.3" y1="203" x2="524.3" y2="244"/>
    <line x1="633" y1="205" x2="633" y2="243"/>
    <polyline points="714.5,163.8 714.5,137.5 914.7,137.5 914.7,160"/>
    <line x1="804.5" y1="137.5" x2="804.5" y2="160"/>
    <line x1="813.8" y1="207" x2="813.8" y2="244"/>
    <line x1="1005.7" y1="190" x2="1005.7" y2="244"/>
    <line x1="1087" y1="128.4" x2="1104" y2="128.4"/>
    <line x1="1196.2" y1="190" x2="1196.2" y2="245"/>
    <!-- bottom -->
    <line x1="96" y1="312" x2="96" y2="357"/>
    <line x1="280.6" y1="308" x2="280.6" y2="356"/>
    <line x1="207.9" y1="403" x2="207.9" y2="440"/>
    <line x1="312.6" y1="403" x2="312.6" y2="440"/>
    <line x1="459.3" y1="309" x2="459.3" y2="344"/>
    <line x1="586.5" y1="312.6" x2="586.5" y2="347.7"/>
    <line x1="686" y1="309" x2="686" y2="343.3"/>
    <line x1="783.2" y1="309" x2="783.2" y2="367.5"/>
    <line x1="906.7" y1="309" x2="906.7" y2="377"/>
    <line x1="1042.3" y1="309" x2="1042.3" y2="373.5"/>
    <line x1="1189.8" y1="308" x2="1189.8" y2="372"/>
    <line x1="1302" y1="308" x2="1302" y2="371"/>
  </g>
  <!-- blue arrows -->
  <g stroke="#5b9bd5" stroke-width="2.2" fill="none">
    <polyline points="163,96 212.6,96 212.6,132 262,132"/>
    <polyline points="251,123 262,132 251,141"/>
    <line x1="229" y1="150" x2="176" y2="150"/>
    <polyline points="187,141 176,150 187,159"/>
    <polyline points="277.6,172.5 225,172.5 225,206 176,206"/>
    <polyline points="187,197 176,206 187,215"/>
  </g>
</svg>
<!-- labels -->
<div class="l" style="left:84px;top:114px;width:17px;line-height:20.7px;white-space:normal">公共广播</div>
<div class="l" style="left:275px;top:84px">功放</div>
<div class="l" style="left:384px;top:38px">防盗报警</div>
<div class="l" style="left:497px;top:83px">体育场<br>灯光</div>
<div class="l" style="left:598px;top:89px">综合布线</div>
<div class="l" style="left:765px;top:17px">视频监控</div>
<div class="l" style="left:949px;top:26px">网络机房</div>
<div class="l" style="left:1117px;top:26px">商业综合体综合管理平台</div>
<div style="position:absolute;left:667px;top:261px;font-size:28px;line-height:32px;color:#000">综合布线</div>
<div class="l" style="left:68px;top:464px">POS机<br>收费</div>
<div class="l" style="left:176px;top:501px">WIFI</div>
<div class="l" style="left:282px;top:508px">信息点</div>
<div class="l" style="left:439px;top:428px">出入口<br>控制</div>
<div class="l" style="left:576px;top:446px;line-height:22px">电子<br>巡更</div>
<div class="l" style="left:673px;top:487px">无线<br>对讲</div>
<div class="l" style="left:757px;top:455px">客流<br>分析</div>
<div class="l" style="left:887px;top:473px">停车场</div>
<div class="l" style="left:1010px;top:502px">广播室</div>
<div class="l" style="left:1149px;top:514px">监控室</div>
<div class="l" style="left:1359px;top:412px;width:17px;line-height:21px;white-space:normal">信息发布</div>
<div style="position:absolute;left:1126px;top:580px;font-size:34px;line-height:40px;color:#111;letter-spacing:1.2px;font-weight:900">头条 @万得资源</div>
<div style="position:absolute;left:1124px;top:578px;font-size:34px;line-height:40px;color:#fff;letter-spacing:1.2px;font-weight:100">头条 @万得资源</div>
</body></html>
